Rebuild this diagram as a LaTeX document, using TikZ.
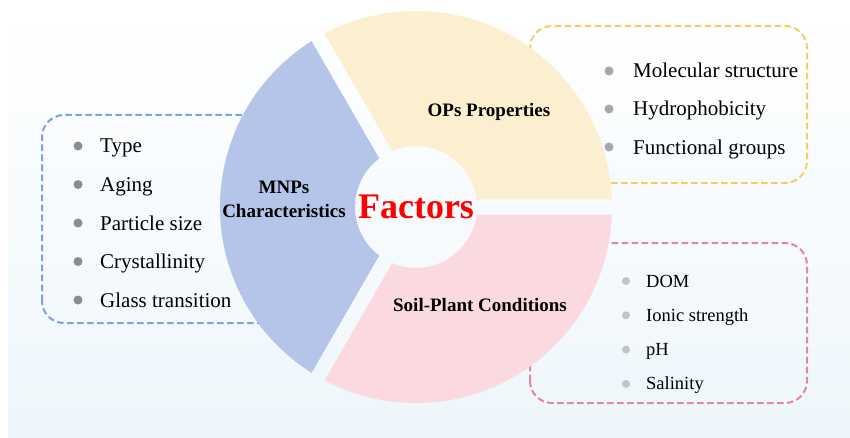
\documentclass[tikz,border=0pt]{standalone}
\usepackage{fontspec}
\setmainfont{Liberation Serif}
\usepackage{xcolor}
\usetikzlibrary{positioning,calc}

\definecolor{mnpblue}{RGB}{181,197,233}
\definecolor{mnpline}{RGB}{128,160,222}
\definecolor{opyellow}{RGB}{252,239,208}
\definecolor{opline}{RGB}{243,206,100}
\definecolor{soilpink}{RGB}{250,218,224}
\definecolor{soilline}{RGB}{226,136,158}
\definecolor{bgblue}{RGB}{238,246,251}

\begin{document}
\begin{tikzpicture}[x=1pt,y=1pt,
	listbox/.style={line width=2pt, rounded corners=22pt, dash pattern=on 6.5pt off 3.5pt},
	item/.style={inner sep=0pt, text height=#1, text depth=3pt},
	dot/.style={circle, inner sep=0pt, minimum size=#1},
	sector/.style={font=\fontsize{19}{24}\selectfont\bfseries, align=center}]
	\useasboundingbox (0,0) rectangle (850,437);
	\shade[top color=white, middle color=white, bottom color=bgblue] (8,0) rectangle (850,437);
	% dashed boxes, partly hidden by the ring
	\draw[listbox, mnpline]   (42,114)  rectangle (300,322);
	\draw[listbox, opline]    (530,254) rectangle (807,411);
	\draw[listbox, soilline]  (530,34)  rectangle (807,194);
	% ring of three sectors
	\coordinate (c) at (416,230);
	\foreach \a/\col in {0/opyellow, 120/mnpblue, 240/soilpink}
		\fill[\col] ($(c)+(\a+2.2:196)$) arc[start angle=\a+2.2, end angle=\a+117.8, radius=196]
			-- ($(c)+(\a+112.9:61)$) arc[start angle=\a+112.9, end angle=\a+7.1, radius=61] -- cycle;
	\node[sector] (ops)  at (489,325.5) {OPs Properties};
	\node[sector] (mnps) at (284,237.5) {MNPs\\Characteristics};
	\node[sector] (soil) at (480,132)   {Soil-Plant Conditions};
	\node[font=\fontsize{36}{40}\selectfont\bfseries, text=red] (factors) at (c) {Factors};
	% lists
	\foreach \t [count=\i] in {Type, Aging, Particle size, Crystallinity, Glass transition} {
		\node[dot=9pt, fill={rgb,255:red,140;green,140;blue,140}] (mnpdot\i) at (78,{329.5-38.5*\i}) {};
		\node[item=17pt, font=\fontsize{21}{24}\selectfont, right=22pt of mnpdot\i.center] (mnp\i) {\t};
	}
	\foreach \t [count=\i] in {Molecular structure, Hydrophobicity, Functional groups} {
		\node[dot=9pt, fill={rgb,255:red,168;green,168;blue,168}] (opdot\i) at (609,{404-38*\i}) {};
		\node[item=17pt, font=\fontsize{21}{24}\selectfont, right=24pt of opdot\i.center] (op\i) {\t};
	}
	\foreach \t [count=\i] in {DOM, Ionic strength, pH, Salinity} {
		\node[dot=8pt, fill={rgb,255:red,195;green,195;blue,195}] (soildot\i) at (626,{190.3-34.3*\i}) {};
		\node[item=15pt, font=\fontsize{18.5}{22}\selectfont, right=20pt of soildot\i.center] (soil\i) {\t};
	}
\end{tikzpicture}
\end{document}
